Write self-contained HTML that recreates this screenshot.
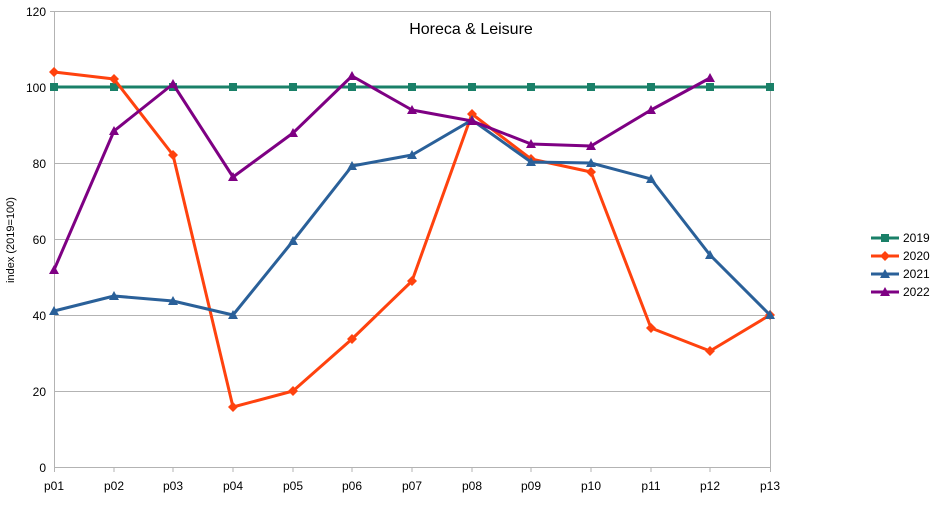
<!DOCTYPE html>
<html><head><meta charset="utf-8"><style>
html,body{margin:0;padding:0;background:#fff;}
svg{display:block;font-family:"Liberation Sans",sans-serif;}
</style></head><body>
<svg width="943" height="530" viewBox="0 0 943 530" xmlns="http://www.w3.org/2000/svg">
<g stroke="#b3b3b3" stroke-width="1">
<line x1="54" y1="11.5" x2="770" y2="11.5"/>
<line x1="54" y1="87.5" x2="770" y2="87.5"/>
<line x1="54" y1="163.5" x2="770" y2="163.5"/>
<line x1="54" y1="239.5" x2="770" y2="239.5"/>
<line x1="54" y1="315.5" x2="770" y2="315.5"/>
<line x1="54" y1="391.5" x2="770" y2="391.5"/>
<line x1="54" y1="467.5" x2="770" y2="467.5"/>
<line x1="54.5" y1="11" x2="54.5" y2="472"/>
<line x1="770.5" y1="11" x2="770.5" y2="472"/>
<line x1="50" y1="11.5" x2="54" y2="11.5"/>
</g>
<g stroke="#b3b3b3"><line x1="114" y1="467" x2="114" y2="472"/><line x1="173" y1="467" x2="173" y2="472"/><line x1="233" y1="467" x2="233" y2="472"/><line x1="293" y1="467" x2="293" y2="472"/><line x1="352" y1="467" x2="352" y2="472"/><line x1="412" y1="467" x2="412" y2="472"/><line x1="472" y1="467" x2="472" y2="472"/><line x1="531" y1="467" x2="531" y2="472"/><line x1="591" y1="467" x2="591" y2="472"/><line x1="651" y1="467" x2="651" y2="472"/><line x1="710" y1="467" x2="710" y2="472"/></g>
<g font-size="12" fill="#000" text-anchor="end">
<text x="46" y="16">120</text><text x="46" y="92">100</text><text x="46" y="168">80</text><text x="46" y="244">60</text><text x="46" y="320">40</text><text x="46" y="396">20</text><text x="46" y="472">0</text>
</g>
<g font-size="12" fill="#000" text-anchor="middle">
<text x="54" y="490">p01</text><text x="114" y="490">p02</text><text x="173" y="490">p03</text><text x="233" y="490">p04</text><text x="293" y="490">p05</text><text x="352" y="490">p06</text><text x="412" y="490">p07</text><text x="472" y="490">p08</text><text x="531" y="490">p09</text><text x="591" y="490">p10</text><text x="651" y="490">p11</text><text x="710" y="490">p12</text><text x="770" y="490">p13</text>
</g>
<text x="14" y="240" font-size="11" text-anchor="middle" transform="rotate(-90 14 240)">index (2019=100)</text>
<text x="471" y="34" font-size="16" text-anchor="middle">Horeca &amp; Leisure</text>
<!-- 2019 -->
<polyline fill="none" stroke="#1a8068" stroke-width="3" points="54,87 770,87"/>
<g fill="#1a8068">
<rect x="50" y="83" width="8" height="8"/><rect x="110" y="83" width="8" height="8"/><rect x="169" y="83" width="8" height="8"/><rect x="229" y="83" width="8" height="8"/><rect x="289" y="83" width="8" height="8"/><rect x="348" y="83" width="8" height="8"/><rect x="408" y="83" width="8" height="8"/><rect x="468" y="83" width="8" height="8"/><rect x="527" y="83" width="8" height="8"/><rect x="587" y="83" width="8" height="8"/><rect x="647" y="83" width="8" height="8"/><rect x="706" y="83" width="8" height="8"/><rect x="766" y="83" width="8" height="8"/>
</g>
<!-- 2020 -->
<polyline id="s20" fill="none" stroke="#ff420e" stroke-width="3" stroke-linejoin="round" points="54,72 114,79 173,155 233,407 293,391 352,339 412,281 472,114 531,159 591,172 651,328 710,351 770,315"/>
<g fill="#ff420e">
<path d="M54,67l5,5l-5,5l-5,-5z"/><path d="M114,74l5,5l-5,5l-5,-5z"/><path d="M173,150l5,5l-5,5l-5,-5z"/><path d="M233,402l5,5l-5,5l-5,-5z"/><path d="M293,386l5,5l-5,5l-5,-5z"/><path d="M352,334l5,5l-5,5l-5,-5z"/><path d="M412,276l5,5l-5,5l-5,-5z"/><path d="M472,109l5,5l-5,5l-5,-5z"/><path d="M531,154l5,5l-5,5l-5,-5z"/><path d="M591,167l5,5l-5,5l-5,-5z"/><path d="M651,323l5,5l-5,5l-5,-5z"/><path d="M710,346l5,5l-5,5l-5,-5z"/><path d="M770,310l5,5l-5,5l-5,-5z"/>
</g>
<!-- 2021 -->
<polyline fill="none" stroke="#2a6099" stroke-width="3" stroke-linejoin="round" points="54,311 114,296 173,301 233,315 293,241 352,166 412,155 472,120 531,162 591,163 651,179 710,255 770,315"/>
<g fill="#2a6099">
<path d="M54,306l5,9h-10z"/><path d="M114,291l5,9h-10z"/><path d="M173,296l5,9h-10z"/><path d="M233,310l5,9h-10z"/><path d="M293,236l5,9h-10z"/><path d="M352,161l5,9h-10z"/><path d="M412,150l5,9h-10z"/><path d="M472,115l5,9h-10z"/><path d="M531,157l5,9h-10z"/><path d="M591,158l5,9h-10z"/><path d="M651,174l5,9h-10z"/><path d="M710,250l5,9h-10z"/><path d="M770,310l5,9h-10z"/>
</g>
<!-- 2022 -->
<polyline fill="none" stroke="#7e0083" stroke-width="3" stroke-linejoin="round" points="54,270 114,131 173,84 233,177 293,133 352,76 412,110 472,121 531,144 591,146 651,110 710,78"/>
<g fill="#7e0083">
<path d="M54,265l5,9h-10z"/><path d="M114,126l5,9h-10z"/><path d="M173,79l5,9h-10z"/><path d="M233,172l5,9h-10z"/><path d="M293,128l5,9h-10z"/><path d="M352,71l5,9h-10z"/><path d="M412,105l5,9h-10z"/><path d="M472,116l5,9h-10z"/><path d="M531,139l5,9h-10z"/><path d="M591,141l5,9h-10z"/><path d="M651,105l5,9h-10z"/><path d="M710,73l5,9h-10z"/>
</g>
<!-- legend -->
<g font-size="12" fill="#000">
<line x1="871" y1="238" x2="899" y2="238" stroke="#1a8068" stroke-width="3"/><rect x="881" y="234" width="8" height="8" fill="#1a8068"/><text x="903" y="242">2019</text>
<line x1="871" y1="256" x2="899" y2="256" stroke="#ff420e" stroke-width="3"/><path d="M885,251l5,5l-5,5l-5,-5z" fill="#ff420e"/><text x="903" y="260">2020</text>
<line x1="871" y1="274" x2="899" y2="274" stroke="#2a6099" stroke-width="3"/><path d="M885,269l5,9h-10z" fill="#2a6099"/><text x="903" y="278">2021</text>
<line x1="871" y1="292" x2="899" y2="292" stroke="#7e0083" stroke-width="3"/><path d="M885,287l5,9h-10z" fill="#7e0083"/><text x="903" y="296">2022</text>
</g>
</svg>
</body></html>
